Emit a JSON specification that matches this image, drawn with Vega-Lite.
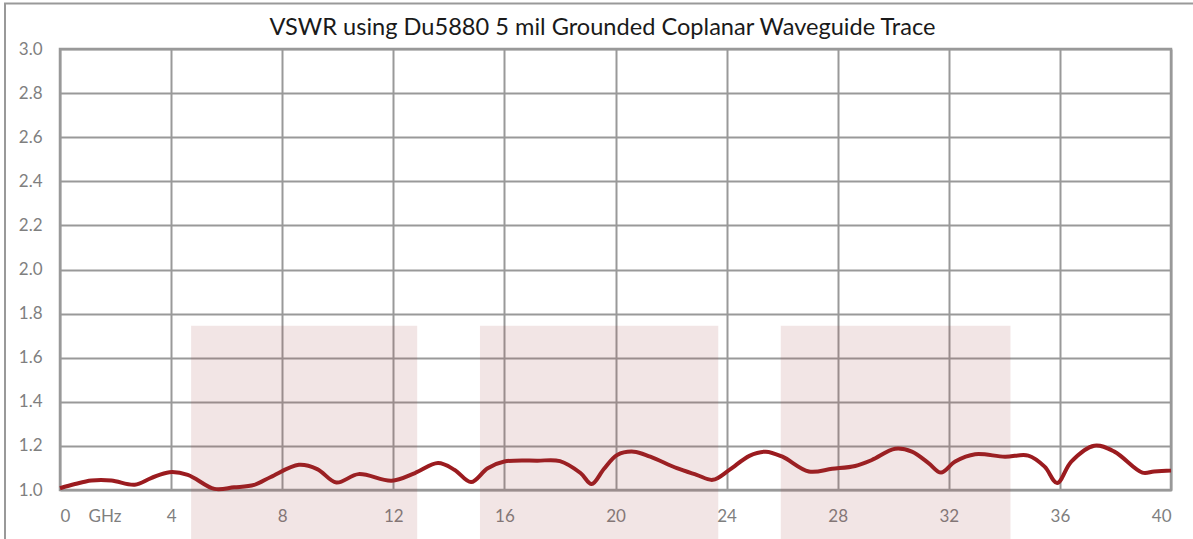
{
  "$schema": "https://vega.github.io/schema/vega-lite/v6.json",
  "width": 1111,
  "height": 441,
  "autosize": {"type": "none"},
  "padding": {"left": 60, "top": 49, "right": 22, "bottom": 49},
  "background": "white",
  "title": {
    "text": "VSWR using Du5880 5 mil Grounded Coplanar Waveguide Trace",
    "font": "Lato",
    "fontSize": 23.6,
    "fontWeight": "normal",
    "color": "#1a1a1a",
    "anchor": "middle",
    "frame": "group",
    "dx": -13,
    "offset": -37
  },
  "config": {
    "view": {"stroke": "#999999", "strokeWidth": 2.5},
    "axis": {
      "labelFont": "Lato",
      "labelFontSize": 17,
      "labelColor": "#7f7f7f",
      "gridColor": "#999999",
      "gridWidth": 2,
      "domain": false,
      "ticks": false,
      "title": null
    }
  },
  "datasets": {
    "vswr": [
      {"ghz": 0, "vswr": 1.008},
      {"ghz": 0.54, "vswr": 1.027},
      {"ghz": 1.13, "vswr": 1.043},
      {"ghz": 1.85, "vswr": 1.043},
      {"ghz": 2.69, "vswr": 1.024},
      {"ghz": 3.28, "vswr": 1.054},
      {"ghz": 3.94, "vswr": 1.081},
      {"ghz": 4.6, "vswr": 1.069},
      {"ghz": 5.56, "vswr": 1.005},
      {"ghz": 6.27, "vswr": 1.012},
      {"ghz": 6.99, "vswr": 1.023},
      {"ghz": 7.59, "vswr": 1.059},
      {"ghz": 8.6, "vswr": 1.114},
      {"ghz": 9.26, "vswr": 1.095},
      {"ghz": 9.95, "vswr": 1.034},
      {"ghz": 10.75, "vswr": 1.072},
      {"ghz": 11.94, "vswr": 1.042},
      {"ghz": 12.78, "vswr": 1.077},
      {"ghz": 13.61, "vswr": 1.122},
      {"ghz": 14.21, "vswr": 1.091},
      {"ghz": 14.8, "vswr": 1.036},
      {"ghz": 15.4, "vswr": 1.099},
      {"ghz": 16.0, "vswr": 1.129},
      {"ghz": 17.19, "vswr": 1.133},
      {"ghz": 18.0, "vswr": 1.131},
      {"ghz": 18.74, "vswr": 1.077},
      {"ghz": 19.14, "vswr": 1.027},
      {"ghz": 19.58, "vswr": 1.095},
      {"ghz": 20.06, "vswr": 1.159},
      {"ghz": 20.66, "vswr": 1.174},
      {"ghz": 21.25, "vswr": 1.151},
      {"ghz": 22.21, "vswr": 1.099},
      {"ghz": 22.92, "vswr": 1.069},
      {"ghz": 23.5, "vswr": 1.046},
      {"ghz": 24.1, "vswr": 1.091},
      {"ghz": 24.82, "vswr": 1.155},
      {"ghz": 25.41, "vswr": 1.174},
      {"ghz": 26.01, "vswr": 1.151},
      {"ghz": 26.96, "vswr": 1.084},
      {"ghz": 27.8, "vswr": 1.096},
      {"ghz": 28.63, "vswr": 1.109},
      {"ghz": 29.23, "vswr": 1.136},
      {"ghz": 30.07, "vswr": 1.187},
      {"ghz": 30.67, "vswr": 1.174},
      {"ghz": 31.27, "vswr": 1.122},
      {"ghz": 31.72, "vswr": 1.079},
      {"ghz": 32.23, "vswr": 1.129},
      {"ghz": 32.95, "vswr": 1.162},
      {"ghz": 34.02, "vswr": 1.151},
      {"ghz": 34.86, "vswr": 1.156},
      {"ghz": 35.45, "vswr": 1.106},
      {"ghz": 35.9, "vswr": 1.032},
      {"ghz": 36.41, "vswr": 1.129},
      {"ghz": 37.24, "vswr": 1.201},
      {"ghz": 37.96, "vswr": 1.174},
      {"ghz": 38.97, "vswr": 1.079},
      {"ghz": 39.39, "vswr": 1.084},
      {"ghz": 40.0, "vswr": 1.088}
    ],
    "bands": [
      {"start": 4.72, "end": 12.86, "low": 0.7, "high": 1.745},
      {"start": 15.12, "end": 23.7, "low": 0.7, "high": 1.745},
      {"start": 25.95, "end": 34.22, "low": 0.7, "high": 1.745}
    ],
    "frame": [
      {"left": -1.98, "right": 41.5, "bottom": 0.6, "top": 3.206}
    ],
    "unit": [
      {"ghz": 1.62, "level": 0.876, "label": "GHz"}
    ]
  },
  "layer": [
    {
      "data": {"name": "frame"},
      "mark": {"type": "rect", "fill": null, "stroke": "#999999", "strokeWidth": 2},
      "encoding": {
        "x": {"field": "left", "type": "quantitative", "scale": {"domain": [0, 40], "nice": false}, "axis": {"values": [0, 4, 8, 12, 16, 20, 24, 28, 32, 36, 40], "labelPadding": 18, "title": null}},
        "x2": {"field": "right"},
        "y": {"field": "bottom", "type": "quantitative", "scale": {"domain": [1, 3], "nice": false}, "axis": {"values": [1, 1.2, 1.4, 1.6, 1.8, 2, 2.2, 2.4, 2.6, 2.8, 3], "format": ".1f", "labelPadding": 18, "title": null}},
        "y2": {"field": "top"}
      }
    },
    {
      "data": {"name": "vswr"},
      "mark": {"type": "line", "interpolate": "catmull-rom", "color": "#9b1b1f", "strokeWidth": 4},
      "encoding": {
        "x": {"field": "ghz", "type": "quantitative"},
        "y": {"field": "vswr", "type": "quantitative"}
      }
    },
    {
      "data": {"name": "bands"},
      "mark": {"type": "rect", "fill": "#a04040", "opacity": 0.137},
      "encoding": {
        "x": {"field": "start", "type": "quantitative"},
        "x2": {"field": "end"},
        "y": {"field": "low", "type": "quantitative"},
        "y2": {"field": "high"}
      }
    },
    {
      "data": {"name": "unit"},
      "mark": {"type": "text", "font": "Lato", "fontSize": 17, "color": "#7f7f7f", "baseline": "middle", "align": "center"},
      "encoding": {
        "x": {"field": "ghz", "type": "quantitative"},
        "y": {"field": "level", "type": "quantitative"},
        "text": {"field": "label"}
      }
    }
  ]
}
